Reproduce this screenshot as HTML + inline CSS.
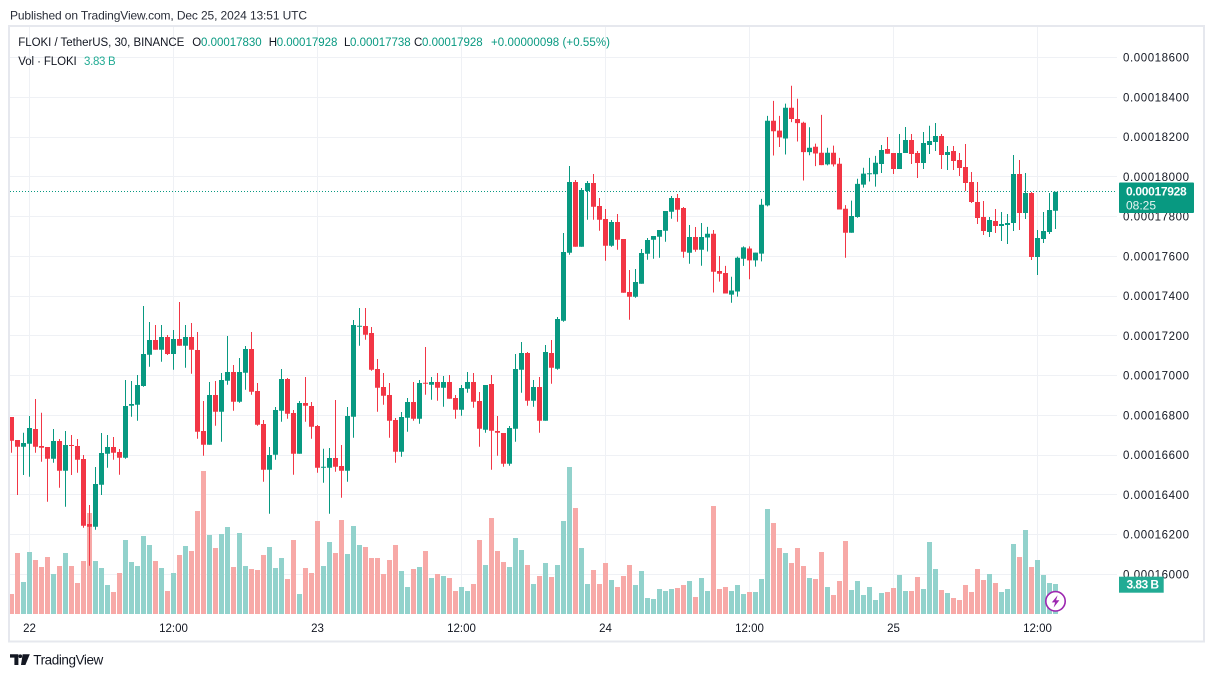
<!DOCTYPE html>
<html>
<head>
<meta charset="utf-8">
<style>
html,body{margin:0;padding:0;background:#fff;}
svg{display:block;}
text{font-family:"Liberation Sans",Arial,sans-serif;}
</style>
</head>
<body>
<svg width="1214" height="677" viewBox="0 0 1214 677" xmlns="http://www.w3.org/2000/svg">
<rect x="0" y="0" width="1214" height="677" fill="#ffffff"/>
<defs>
<clipPath id="pane"><rect x="10" y="27" width="1107" height="587"/></clipPath>
</defs>

<!-- published line -->
<text x="10" y="19.5" font-size="12" fill="#2a2e39" textLength="297">Published on TradingView.com, Dec 25, 2024 13:51 UTC</text>

<!-- chart frame -->
<rect x="9" y="26" width="1195" height="615.5" fill="none" stroke="#E6E8EE" stroke-width="2"/>

<!-- grid -->
<g stroke="#EFF1F5" stroke-width="1">
<path d="M10 57.5H1117M10 97.5H1117M10 137.5H1117M10 176.5H1117M10 216.5H1117M10 256.5H1117M10 296.5H1117M10 335.5H1117M10 375.5H1117M10 415.5H1117M10 455.5H1117M10 494.5H1117M10 534.5H1117M10 574.5H1117"/>
<path d="M29.5 27V614M173.5 27V614M317.5 27V614M461.5 27V614M605.5 27V614M749.5 27V614M893.5 27V614M1037.5 27V614"/>
</g>

<g clip-path="url(#pane)">
<!-- volume -->
<path fill="#F7A9A7" d="M9 594h5V614h-5zM15 553h5V614h-5zM33 560h5V614h-5zM39 567h5V614h-5zM45 557h5V614h-5zM57 566h5V614h-5zM69 566h5V614h-5zM75 583h5V614h-5zM81 561h5V614h-5zM87 513h5V614h-5zM111 592h5V614h-5zM117 573h5V614h-5zM153 561h5V614h-5zM165 591h5V614h-5zM177 555h5V614h-5zM189 551h5V614h-5zM195 511h5V614h-5zM201 471h5V614h-5zM213 548h5V614h-5zM231 567h5V614h-5zM249 569h5V614h-5zM255 570h5V614h-5zM261 555h5V614h-5zM285 579h5V614h-5zM291 540h5V614h-5zM303 568h5V614h-5zM309 573h5V614h-5zM315 521h5V614h-5zM333 553h5V614h-5zM339 520h5V614h-5zM363 547h5V614h-5zM369 558h5V614h-5zM375 558h5V614h-5zM381 574h5V614h-5zM387 560h5V614h-5zM393 545h5V614h-5zM411 569h5V614h-5zM423 551h5V614h-5zM435 574h5V614h-5zM447 578h5V614h-5zM453 591h5V614h-5zM471 584h5V614h-5zM477 540h5V614h-5zM489 518h5V614h-5zM495 551h5V614h-5zM501 562h5V614h-5zM525 565h5V614h-5zM537 576h5V614h-5zM549 577h5V614h-5zM573 508h5V614h-5zM591 570h5V614h-5zM597 584h5V614h-5zM603 563h5V614h-5zM615 587h5V614h-5zM621 576h5V614h-5zM627 565h5V614h-5zM675 588h5V614h-5zM681 585h5V614h-5zM693 597h5V614h-5zM711 506h5V614h-5zM717 589h5V614h-5zM723 587h5V614h-5zM747 592h5V614h-5zM771 523h5V614h-5zM777 548h5V614h-5zM789 563h5V614h-5zM795 548h5V614h-5zM801 566h5V614h-5zM813 579h5V614h-5zM819 552h5V614h-5zM831 595h5V614h-5zM837 581h5V614h-5zM843 541h5V614h-5zM885 592h5V614h-5zM891 588h5V614h-5zM909 591h5V614h-5zM915 577h5V614h-5zM939 590h5V614h-5zM951 598h5V614h-5zM957 600h5V614h-5zM963 585h5V614h-5zM969 592h5V614h-5zM975 569h5V614h-5zM981 580h5V614h-5zM993 583h5V614h-5zM1017 557h5V614h-5zM1029 567h5V614h-5z"/>
<path fill="#92D2CC" d="M21 582h5V614h-5zM27 552h5V614h-5zM51 574h5V614h-5zM63 553h5V614h-5zM93 561h5V614h-5zM99 568h5V614h-5zM105 585h5V614h-5zM123 540h5V614h-5zM129 562h5V614h-5zM135 566h5V614h-5zM141 536h5V614h-5zM147 545h5V614h-5zM159 568h5V614h-5zM171 573h5V614h-5zM183 546h5V614h-5zM207 535h5V614h-5zM219 534h5V614h-5zM225 527h5V614h-5zM237 533h5V614h-5zM243 566h5V614h-5zM267 547h5V614h-5zM273 568h5V614h-5zM279 558h5V614h-5zM297 594h5V614h-5zM321 566h5V614h-5zM327 542h5V614h-5zM345 554h5V614h-5zM351 526h5V614h-5zM357 545h5V614h-5zM399 571h5V614h-5zM405 587h5V614h-5zM417 567h5V614h-5zM429 578h5V614h-5zM441 576h5V614h-5zM459 587h5V614h-5zM465 591h5V614h-5zM483 565h5V614h-5zM507 567h5V614h-5zM513 538h5V614h-5zM519 550h5V614h-5zM531 584h5V614h-5zM543 563h5V614h-5zM555 565h5V614h-5zM561 521h5V614h-5zM567 467h5V614h-5zM579 548h5V614h-5zM585 584h5V614h-5zM609 580h5V614h-5zM633 585h5V614h-5zM639 571h5V614h-5zM645 598h5V614h-5zM651 599h5V614h-5zM657 589h5V614h-5zM663 591h5V614h-5zM669 589h5V614h-5zM687 581h5V614h-5zM699 578h5V614h-5zM705 591h5V614h-5zM729 591h5V614h-5zM735 585h5V614h-5zM741 594h5V614h-5zM753 592h5V614h-5zM759 579h5V614h-5zM765 509h5V614h-5zM783 553h5V614h-5zM807 578h5V614h-5zM825 587h5V614h-5zM849 590h5V614h-5zM855 581h5V614h-5zM861 595h5V614h-5zM867 587h5V614h-5zM873 600h5V614h-5zM879 593h5V614h-5zM897 575h5V614h-5zM903 591h5V614h-5zM921 589h5V614h-5zM927 542h5V614h-5zM933 569h5V614h-5zM945 593h5V614h-5zM987 574h5V614h-5zM999 592h5V614h-5zM1005 589h5V614h-5zM1011 544h5V614h-5zM1023 530h5V614h-5zM1035 560h5V614h-5zM1041 575h5V614h-5zM1047 583h5V614h-5zM1053 584h5V614h-5z"/>

<!-- dotted last price line -->
<path d="M10 191.5H1117" stroke="#089981" stroke-width="1" stroke-dasharray="1 2"/>

<!-- red candles -->
<path fill="none" stroke="#F23645" stroke-width="1" d="M11.5 417V452.7M17.5 440V495M35.5 399V452.7M41.5 412.7V461.7M47.5 447V501.7M59.5 439V487.7M71.5 435V475M77.5 439V472.7M83.5 455V527.7M89.5 505V565.7M113.5 437V459.7M119.5 449V474.7M155.5 325V349.7M167.5 335V355M179.5 302V345.7M191.5 323V373.7M197.5 332V438.7M203.5 401V455.7M215.5 381V425.7M233.5 365V410.7M251.5 332V394.7M257.5 383V425.7M263.5 420V481.7M287.5 378V418.7M293.5 410V474.7M305.5 377V421.7M311.5 402V438.7M317.5 425V472.7M335.5 400V471.7M341.5 445V497.7M365.5 308V339.7M371.5 327V370.7M377.5 359V411.7M383.5 373V404.7M389.5 383V437.7M395.5 418V462.7M413.5 382V420.7M425.5 347V394.7M437.5 373V400.7M449.5 375V398.7M455.5 395V418.7M473.5 373V407.7M479.5 392V446.7M491.5 375V469.7M497.5 416V455.7M503.5 433V466.7M527.5 352V405.7M539.5 377V432.7M551.5 340V383.7M575.5 180V246.7M593.5 174V219.7M599.5 198V230.7M605.5 209V260.7M617.5 214V249.7M623.5 239V292.7M629.5 270V319.7M677.5 194V221.7M683.5 207V257.7M695.5 227V251.7M713.5 230V292.5M719.5 256V281.6M725.5 265.9V293.5M749.5 246.4V279.2M773.5 100.9V155.5M779.5 115.9V147M791.5 85.8V122.1M797.5 98.8V141.5M803.5 121.7V180.5M815.5 143.6V166.1M821.5 114.9V165.1M833.5 145.6V166.5M839.5 157.9V209.5M845.5 205.1V257.7M887.5 137V153.7M893.5 153V174M911.5 134V164M917.5 151V178M941.5 134V169M953.5 146V170M959.5 153V176M965.5 144V191M971.5 172V203M977.5 182V224M983.5 201V235M995.5 209V233M1019.5 160V230M1031.5 192V260"/>
<path fill="#F23645" d="M9 417h5V440.7h-5zM15 440h5V446.7h-5zM33 429h5V446.7h-5zM39 446h5V447.7h-5zM45 447h5V458.7h-5zM57 441h5V470.7h-5zM69 445h5V446h-5zM75 446h5V459.7h-5zM81 459h5V525.7h-5zM87 524h5V526.7h-5zM111 447h5V452.7h-5zM117 452h5V457.7h-5zM153 340h5V349.7h-5zM165 337h5V354h-5zM177 339h5V345.7h-5zM189 337h5V349.7h-5zM195 350h5V431.7h-5zM201 431h5V444.7h-5zM213 395h5V411.7h-5zM231 372h5V401.7h-5zM249 349h5V391.7h-5zM255 391h5V424.7h-5zM261 424h5V469.7h-5zM285 379h5V413.7h-5zM291 413h5V453.7h-5zM303 403h5V405.7h-5zM309 406h5V426.7h-5zM315 426h5V467.7h-5zM333 458h5V466.7h-5zM339 466h5V470.7h-5zM363 326h5V334.7h-5zM369 333h5V369.7h-5zM375 369h5V387.7h-5zM381 387h5V395.7h-5zM387 395h5V420.7h-5zM393 420h5V451.7h-5zM411 402h5V418.7h-5zM423 382.7h5V383.7h-5zM435 382h5V387.7h-5zM447 382h5V398.7h-5zM453 398h5V409.7h-5zM471 382h5V401.7h-5zM477 401h5V428.7h-5zM489 384h5V430.7h-5zM495 431h5V432.7h-5zM501 433h5V463.7h-5zM525 353h5V400.7h-5zM537 387h5V420.7h-5zM549 353h5V367.7h-5zM573 182h5V246.7h-5zM591 183h5V206.7h-5zM597 206h5V219.7h-5zM603 219h5V245.7h-5zM615 222h5V239.7h-5zM621 239h5V292.7h-5zM627 292h5V296.7h-5zM675 198h5V209.7h-5zM681 208h5V251.7h-5zM693 237h5V249.7h-5zM711 233.8h5V271.7h-5zM717 271h5V273.7h-5zM723 273h5V293.5h-5zM747 248.5h5V260.4h-5zM771 120.7h5V131.3h-5zM777 130.6h5V137.4h-5zM789 107.7h5V119h-5zM795 119h5V123.1h-5zM801 122.7h5V152.1h-5zM813 146.7h5V153.5h-5zM819 152.8h5V165.1h-5zM831 152.8h5V164.4h-5zM837 163.7h5V209.5h-5zM843 208.8h5V232.7h-5zM885 149h5V153.7h-5zM891 153h5V169h-5zM909 140h5V154h-5zM915 153h5V163h-5zM939 136h5V155h-5zM951 151h5V161h-5zM957 160h5V168h-5zM963 167h5V183h-5zM969 182h5V202h-5zM975 202h5V218h-5zM981 217h5V231h-5zM993 221h5V226h-5zM1017 174h5V213h-5zM1029 193h5V257h-5z"/>

<!-- green candles -->
<path fill="none" stroke="#089981" stroke-width="1" d="M23.5 432.7V475M29.5 416V476.7M53.5 429V462.7M65.5 431V506.7M95.5 467V529.7M101.5 433V495M107.5 435V467.7M125.5 380V458.7M131.5 381V416.7M137.5 375V420.7M143.5 306V386.7M149.5 322V366.7M161.5 325V361.7M173.5 330V369.7M185.5 325V367.7M209.5 382V444.7M221.5 373V441.7M227.5 336V384.7M239.5 358V402.7M245.5 346V389.7M269.5 447V513.7M275.5 407V459.7M281.5 369V421.7M299.5 401V453.7M323.5 448.7V482.7M329.5 448V513.7M347.5 407V481.7M353.5 320V437.7M359.5 308V345.7M401.5 412V456.7M407.5 398V431.7M419.5 380V423.7M431.5 377V399.7M443.5 376V406.7M461.5 385V415.7M467.5 372V392.7M485.5 385V432.7M509.5 426V465.7M515.5 354V441.7M521.5 342V392.7M533.5 380V406.7M545.5 345V420.7M557.5 317V369.7M563.5 233V321.7M569.5 166V254.7M581.5 188V246.7M587.5 181V219.7M611.5 220V246.7M635.5 269V297.7M641.5 249V283.7M647.5 238V259.7M653.5 236V258.7M659.5 230V257.7M665.5 211V241.7M671.5 196V218.7M689.5 225V263.7M701.5 223V265.7M707.5 226.9V251.5M731.5 276.8V302.8M737.5 256.6V296.6M743.5 246.4V265.9M755.5 252.6V266.6M761.5 198.9V261.4M767.5 115.9V206.4M785.5 103.6V154.5M809.5 127.2V155.2M827.5 147.7V165.4M851.5 200.6V232.7M857.5 178.8V217.7M863.5 167.8V187.6M869.5 157.9V181.5M875.5 155.9V186.6M881.5 145V173M899.5 134V169M905.5 127V153M923.5 132V169M929.5 125.7V154M935.5 123V151M947.5 146V170M989.5 217V237M1001.5 212V241M1007.5 214V244M1013.5 155V231M1025.5 173V219M1037.5 230V275M1043.5 212V243M1049.5 193V234M1055.5 191.9V229"/>
<path fill="#089981" d="M21 443h5V446.7h-5zM27 428h5V443.7h-5zM51 441h5V458.7h-5zM63 445h5V470.7h-5zM93 484h5V526.7h-5zM99 453h5V484.7h-5zM105 447h5V453.7h-5zM123 406h5V457.7h-5zM129 404h5V405.7h-5zM135 385h5V404.7h-5zM141 354h5V386h-5zM147 340h5V354.7h-5zM159 337h5V349.7h-5zM171 339h5V354h-5zM183 337h5V345.7h-5zM207 395h5V444.7h-5zM219 380h5V411.7h-5zM225 372h5V380.7h-5zM237 372h5V401.7h-5zM243 349h5V372.7h-5zM267 455h5V469.7h-5zM273 410h5V454.7h-5zM279 379h5V410.7h-5zM297 403h5V453.7h-5zM321 466.7h5V467.7h-5zM327 458h5V467.7h-5zM345 416h5V470.7h-5zM351 325h5V416.7h-5zM357 325.7h5V326.7h-5zM399 417h5V451.7h-5zM405 402h5V417.7h-5zM417 383h5V418.7h-5zM429 382h5V384.7h-5zM441 382h5V387.7h-5zM459 388h5V409.7h-5zM465 382h5V388.7h-5zM483 385h5V429.7h-5zM507 428h5V463.7h-5zM513 369h5V428.7h-5zM519 353h5V369.7h-5zM531 387h5V400.7h-5zM543 352h5V420.7h-5zM555 319h5V368.7h-5zM561 252h5V320.7h-5zM567 182h5V252.7h-5zM579 190h5V246.7h-5zM585 183h5V191h-5zM609 222h5V245.7h-5zM633 282h5V296.7h-5zM639 253h5V283.7h-5zM645 240h5V253.7h-5zM651 236h5V239.7h-5zM657 230h5V236.7h-5zM663 211h5V230.7h-5zM669 198h5V211.7h-5zM687 237h5V252.7h-5zM699 237h5V249.7h-5zM705 233.8h5V237.5h-5zM729 290.5h5V294.6h-5zM735 257.7h5V291.5h-5zM741 247.4h5V258.7h-5zM753 252.6h5V260.4h-5zM759 204.7h5V253.6h-5zM765 120.7h5V205.4h-5zM783 107.7h5V138.5h-5zM807 147.7h5V152.1h-5zM825 152.8h5V164.4h-5zM849 216h5V232.7h-5zM855 183.9h5V217h-5zM861 173.6h5V184.6h-5zM867 173.3h5V174.3h-5zM873 162.7h5V174.3h-5zM879 150h5V164h-5zM897 153h5V169h-5zM903 140h5V153h-5zM921 143h5V163h-5zM927 141h5V145h-5zM933 136h5V142h-5zM945 152h5V155h-5zM987 220h5V232h-5zM999 224h5V226h-5zM1005 223h5V225h-5zM1011 174h5V223h-5zM1023 193h5V213h-5zM1035 238h5V257h-5zM1041 231h5V239h-5zM1047 210h5V232h-5zM1053 191.9h5V210.7h-5z"/>
</g>

<!-- legend -->
<g font-size="11.5">
<text x="18.3" y="46" fill="#131722" textLength="166">FLOKI / TetherUS, 30, BINANCE</text>
<text x="192.3" y="46" fill="#131722">O</text>
<text x="201" y="46" fill="#089981" textLength="60.7">0.00017830</text>
<text x="268.7" y="46" fill="#131722">H</text>
<text x="276.7" y="46" fill="#089981" textLength="60.7">0.00017928</text>
<text x="344" y="46" fill="#131722">L</text>
<text x="350" y="46" fill="#089981" textLength="60.7">0.00017738</text>
<text x="414" y="46" fill="#131722">C</text>
<text x="422" y="46" fill="#089981" textLength="60.7">0.00017928</text>
<text x="491" y="46" fill="#089981" textLength="119">+0.00000098 (+0.55%)</text>
<text x="18.3" y="65" fill="#131722" textLength="58.4">Vol · FLOKI</text>
<text x="84" y="65" fill="#22AB94" textLength="31.7">3.83 B</text>
</g>

<!-- price axis -->
<g font-size="11.5" fill="#131722">
<text x="1123" y="61.5" textLength="66">0.00018600</text>
<text x="1123" y="101.3" textLength="66">0.00018400</text>
<text x="1123" y="141" textLength="66">0.00018200</text>
<text x="1123" y="180.8" textLength="66">0.00018000</text>
<text x="1123" y="220.5" textLength="66">0.00017800</text>
<text x="1123" y="260.3" textLength="66">0.00017600</text>
<text x="1123" y="300" textLength="66">0.00017400</text>
<text x="1123" y="339.8" textLength="66">0.00017200</text>
<text x="1123" y="379.5" textLength="66">0.00017000</text>
<text x="1123" y="419.3" textLength="66">0.00016800</text>
<text x="1123" y="459" textLength="66">0.00016600</text>
<text x="1123" y="498.8" textLength="66">0.00016400</text>
<text x="1123" y="538.5" textLength="66">0.00016200</text>
<text x="1123" y="578.3" textLength="66">0.00016000</text>
</g>

<!-- last price label -->
<rect x="1119" y="182.5" width="75" height="30.5" fill="#089981" rx="1"/>
<text x="1126" y="195.7" font-size="12" font-weight="bold" fill="#ffffff" textLength="60.7">0.00017928</text>
<text x="1126" y="209.5" font-size="12" fill="#E6F5F2">08:25</text>

<!-- volume label -->
<rect x="1119" y="576.7" width="44.7" height="16" fill="#22AB94"/>
<text x="1126.5" y="588.7" font-size="12" font-weight="bold" fill="#ffffff" textLength="32.5">3.83 B</text>

<!-- lightning icon -->
<circle cx="1055.5" cy="601.3" r="9.7" fill="#ffffff" stroke="#9C27B0" stroke-width="1.6"/>
<path d="M1057.6 595.2L1051.8 602.4H1055.1L1053.6 607.6L1059.4 600.2H1056.1Z" fill="#9C27B0"/>

<!-- time axis -->
<g font-size="11.5" fill="#131722" text-anchor="middle">
<text x="29.5" y="632">22</text>
<text x="173.5" y="632">12:00</text>
<text x="317.5" y="632">23</text>
<text x="461.5" y="632">12:00</text>
<text x="605.5" y="632">24</text>
<text x="749.5" y="632">12:00</text>
<text x="893.5" y="632">25</text>
<text x="1037.5" y="632">12:00</text>
</g>

<!-- TradingView logo -->
<g fill="#131722">
<path d="M10 654.3H18.4V665H14.4V657.6H10Z"/>
<circle cx="20.3" cy="656.2" r="1.8"/>
<path d="M22.6 654.3H29.8L25.4 665H21Z"/>
</g>
<text x="33.3" y="664.5" font-size="13.5" fill="#131722" textLength="70">TradingView</text>
</svg>
</body>
</html>
